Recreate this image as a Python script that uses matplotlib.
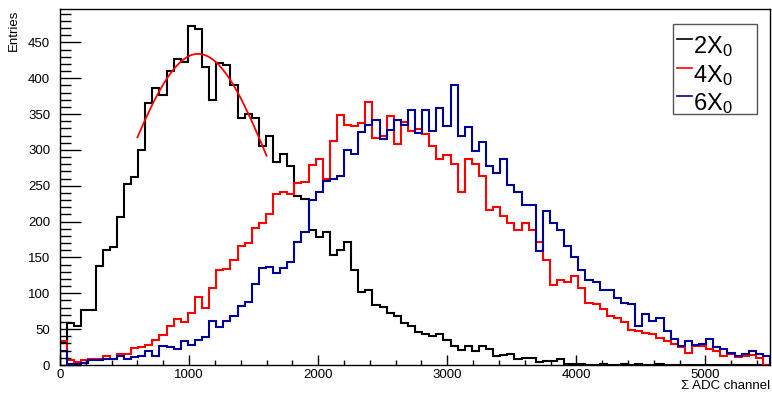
import numpy as np
import matplotlib.pyplot as plt
from matplotlib.ticker import MultipleLocator
from matplotlib.patches import Rectangle

plt.rcParams['font.family'] = 'Liberation Sans'
plt.rcParams['mathtext.fontset'] = 'custom'
plt.rcParams['mathtext.rm'] = 'Liberation Sans'

# 100 bins of 55 ADC channels, 0..5500
edges = np.linspace(0, 5500, 101)

h2x0 = [30, 58, 55, 77, 77, 138, 160, 165, 206, 253,
        262, 300, 365, 386, 376, 410, 427, 422, 473, 469,
        416, 370, 421, 419, 390, 344, 350, 344, 305, 319,
        283, 294, 277, 236, 232, 188, 178, 186, 154, 161,
        171, 132, 102, 104, 84, 81, 72, 69, 58, 54,
        46, 43, 40, 43, 35, 27, 21, 26, 19, 27,
        23, 12, 14, 16, 9, 10, 10, 4, 5, 5,
        8, 1, 2, 1, 0, 0, 2, 0, 0, 1,
        0, 1, 0, 0, 1, 0, 0, 0, 0, 0,
        0, 0, 0, 0, 0, 0, 0, 0, 0, 0]

h4x0 = [33, 7, 4, 7, 9, 9, 12, 9, 15, 16,
        24, 25, 28, 35, 42, 54, 64, 60, 73, 95,
        80, 108, 132, 134, 147, 166, 170, 191, 198, 210,
        238, 241, 238, 254, 255, 279, 287, 260, 313, 349,
        335, 333, 338, 367, 317, 320, 347, 308, 339, 327,
        329, 322, 305, 288, 293, 280, 242, 287, 281, 263,
        216, 221, 208, 198, 188, 198, 188, 172, 146, 112,
        119, 116, 124, 107, 87, 85, 78, 68, 66, 60,
        49, 47, 45, 43, 37, 33, 29, 25, 17, 26,
        26, 23, 19, 13, 16, 11, 13, 14, 10, 0]

h6x0 = [20, 2, 1, 3, 7, 7, 8, 8, 12, 8,
        11, 12, 20, 13, 27, 25, 22, 34, 28, 35,
        39, 61, 53, 62, 68, 82, 88, 113, 135, 137,
        129, 135, 144, 171, 186, 230, 242, 256, 260, 263,
        300, 294, 325, 335, 342, 315, 328, 342, 335, 356,
        323, 356, 327, 358, 333, 390, 319, 332, 299, 311,
        277, 268, 287, 251, 242, 223, 223, 159, 215, 198,
        188, 166, 151, 132, 119, 116, 104, 105, 93, 87,
        85, 54, 71, 61, 66, 48, 36, 27, 34, 28,
        29, 36, 25, 22, 17, 13, 15, 19, 15, 13]

labels = ['2X', '4X', '6X']
colors = ['black', '#ff0000', '#000099']

# gaussian fit on the 2X0 peak
fit_amp, fit_mean, fit_sigma = 434, 1070, 595
fit_lo, fit_hi = 600, 1600

W, H = 772, 396
fig = plt.figure(figsize=(W/100, H/100), dpi=100)
ax = fig.add_axes([60/W, 31/H, 710/W, 356/H])

for h, c in zip([h2x0, h4x0, h6x0], colors):
    ax.stairs(h, edges, color=c, lw=1.5)

xf = np.linspace(fit_lo, fit_hi, 200)
ax.plot(xf, fit_amp*np.exp(-(xf-fit_mean)**2/(2*fit_sigma**2)), color='#ff0000', lw=1.3)

ax.set_xlim(0, 5500)
ax.set_ylim(0, 496.6)
ax.xaxis.set_major_locator(MultipleLocator(1000))
ax.xaxis.set_minor_locator(MultipleLocator(200))
ax.yaxis.set_major_locator(MultipleLocator(50))
ax.yaxis.set_minor_locator(MultipleLocator(10))
ax.tick_params(axis='x', which='major', direction='in', length=7, width=1, labelsize=9.5, pad=3)
ax.tick_params(axis='x', which='minor', direction='in', length=3.6, width=1)
ax.tick_params(axis='y', which='major', direction='in', length=15, width=1, labelsize=9.5, pad=7)
ax.tick_params(axis='y', which='minor', direction='in', length=8, width=1)
for s in ax.spines.values():
    s.set_linewidth(1)

fig.text(14/W, 1-10/H, 'Entries', rotation=90, ha='center', va='top', fontsize=9.5)
fig.text(770/W, 1-386/H, 'Σ ADC channel', ha='right', va='center', fontsize=9.5)

# ROOT style legend box, drawn by hand
fig.add_artist(Rectangle((673/W, 1-114/H), 84/W, 90/H, transform=fig.transFigure,
                         fc='white', ec='#555555', lw=1, zorder=5))
for i, (lab, c) in enumerate(zip(labels, colors)):
    yb = 53.3 + 28.3*i
    fig.add_artist(plt.Line2D([677/W, 692/W], [1-(yb-14)/H]*2, color=c, lw=1.2,
                              transform=fig.transFigure, zorder=6))
    fig.text(693/W, 1-yb/H, r'$\mathregular{' + lab + '_0}$', ha='left', va='baseline',
             fontsize=17, zorder=6)

plt.savefig('out.png', dpi=100)
